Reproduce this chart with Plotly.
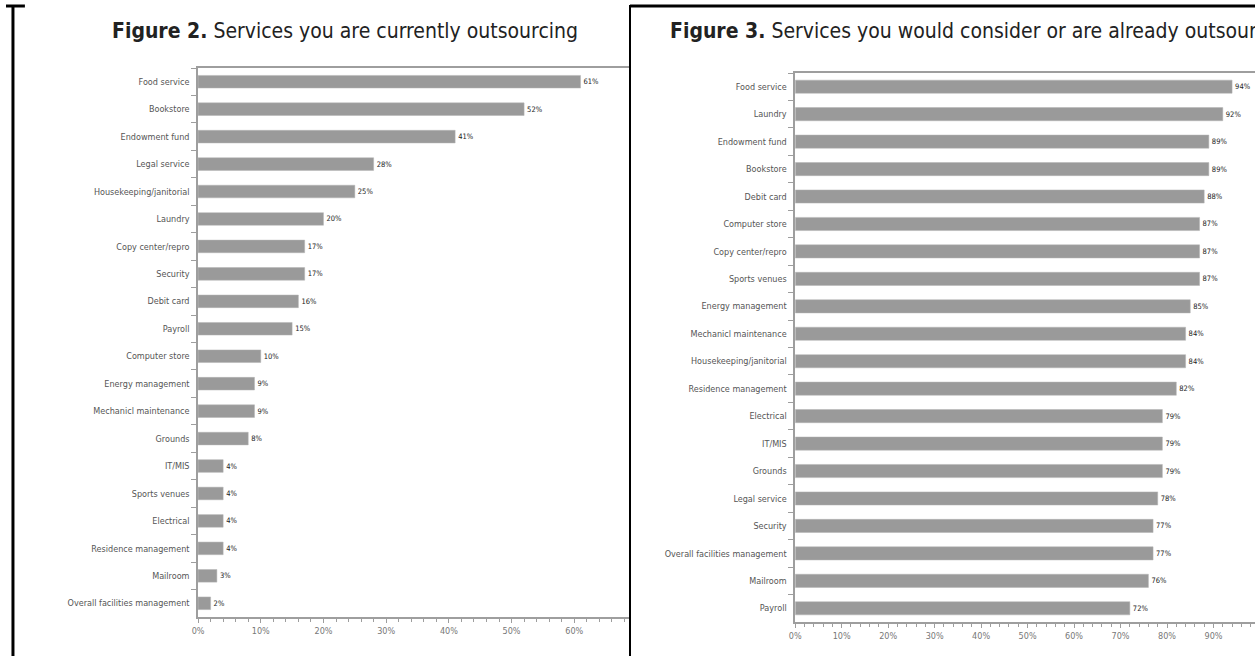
import plotly.graph_objects as go

W, H = 1255, 656

# Figure 2 data (top to bottom)
cats_current = ["Food service", "Bookstore", "Endowment fund", "Legal service",
                "Housekeeping/janitorial", "Laundry", "Copy center/repro", "Security",
                "Debit card", "Payroll", "Computer store", "Energy management",
                "Mechanicl maintenance", "Grounds", "IT/MIS", "Sports venues",
                "Electrical", "Residence management", "Mailroom",
                "Overall facilities management"]
vals_current = [61, 52, 41, 28, 25, 20, 17, 17, 16, 15, 10, 9, 9, 8, 4, 4, 4, 4, 3, 2]

# Figure 3 data (top to bottom)
cats_consider = ["Food service", "Laundry", "Endowment fund", "Bookstore", "Debit card",
                 "Computer store", "Copy center/repro", "Sports venues",
                 "Energy management", "Mechanicl maintenance", "Housekeeping/janitorial",
                 "Residence management", "Electrical", "IT/MIS", "Grounds",
                 "Legal service", "Security", "Overall facilities management",
                 "Mailroom", "Payroll"]
vals_consider = [94, 92, 89, 89, 88, 87, 87, 87, 85, 84, 84, 82, 79, 79, 79, 78, 77, 77, 76, 72]

title_left_bold = "Figure 2."
title_left_rest = " Services you are currently outsourcing"
title_right_bold = "Figure 3."
title_right_rest = " Services you would consider or are already outsourcing"

BAR = "#9a9a9a"
AX = "#9e9e9e"
LBL_FONT = "DejaVu Sans Condensed, Liberation Sans, sans-serif"
TITLE_FONT = "DejaVu Sans Condensed, Liberation Sans, sans-serif"

fig = go.Figure()
fig.add_trace(go.Bar(
    y=cats_current, x=vals_current, orientation="h", xaxis="x", yaxis="y",
    marker=dict(color=BAR, line=dict(color="#b5b5b5", width=0.5)), width=0.46,
    text=[f"{v}%" for v in vals_current], textposition="outside",
    textfont=dict(size=7.5, color="#222222", family=LBL_FONT), cliponaxis=False,
    showlegend=False, hoverinfo="skip"))
fig.add_trace(go.Bar(
    y=cats_consider, x=vals_consider, orientation="h", xaxis="x2", yaxis="y2",
    marker=dict(color=BAR, line=dict(color="#b5b5b5", width=0.5)), width=0.48,
    text=[f"{v}%" for v in vals_consider], textposition="outside",
    textfont=dict(size=7.5, color="#222222", family=LBL_FONT), cliponaxis=False,
    showlegend=False, hoverinfo="skip"))

def xaxis(domain, rng, anchor):
    return dict(domain=domain, range=rng, showgrid=False, zeroline=False,
                showline=True, linecolor=AX, linewidth=1.5, mirror=True,
                tickmode="linear", tick0=0, dtick=10, ticksuffix="%",
                ticks="outside", ticklen=4, tickcolor=AX,
                minor=dict(ticks="outside", ticklen=3, dtick=2, tick0=0, tickcolor=AX),
                tickfont=dict(size=9, color="#777777", family=LBL_FONT),
                ticklabeloverflow="allow",
                anchor=anchor, fixedrange=True)

def yaxis(domain, anchor):
    return dict(domain=domain, range=[19.5, -0.5], type="category",
                showgrid=False, zeroline=False, showline=True, linecolor=AX,
                linewidth=1.5, ticks="outside", ticklen=5, tickcolor=AX,
                tickson="boundaries", ticklabelstandoff=5,
                tickfont=dict(size=9, color="#555555", family=LBL_FONT),
                anchor=anchor, fixedrange=True)

fig.update_layout(
    width=W, height=H, margin=dict(l=0, r=0, t=0, b=0),
    paper_bgcolor="white", plot_bgcolor="white",
    bargap=0.5,
    xaxis=xaxis([193 / W, 626 / W], [0, (626 - 193) / 6.3], "y"),
    yaxis=yaxis([(H - 617) / H, (H - 68) / H], "x"),
    xaxis2=xaxis([793 / W, 1.0], [0, (1255 - 793) / 4.67], "y2"),
    yaxis2=yaxis([(H - 622) / H, (H - 73) / H], "x2"),
    annotations=[
        dict(x=104 / W, y=(H - 31) / H, xref="paper", yref="paper",
             xanchor="left", yanchor="middle", showarrow=False,
             text=f"<b>{title_left_bold}</b>{title_left_rest}",
             font=dict(size=21, color="#222222", family=TITLE_FONT)),
        dict(x=665 / W, y=(H - 31) / H, xref="paper", yref="paper",
             xanchor="left", yanchor="middle", showarrow=False,
             text=f"<b>{title_right_bold}</b>{title_right_rest}",
             font=dict(size=21, color="#222222", family=TITLE_FONT)),
    ],
    shapes=[
        dict(type="line", xref="paper", yref="paper", x0=7 / W, x1=7 / W,
             y0=0, y1=(H - 5) / H, line=dict(color="black", width=3)),
        dict(type="line", xref="paper", yref="paper", x0=0, x1=19 / W,
             y0=(H - 6) / H, y1=(H - 6) / H, line=dict(color="black", width=3)),
        dict(type="line", xref="paper", yref="paper", x0=627 / W, x1=627 / W,
             y0=0, y1=(H - 5) / H, line=dict(color="black", width=2)),
        dict(type="line", xref="paper", yref="paper", x0=627 / W, x1=1,
             y0=(H - 6) / H, y1=(H - 6) / H, line=dict(color="black", width=3)),
    ],
)

fig.write_html("out.html", config=dict(displayModeBar=False))
